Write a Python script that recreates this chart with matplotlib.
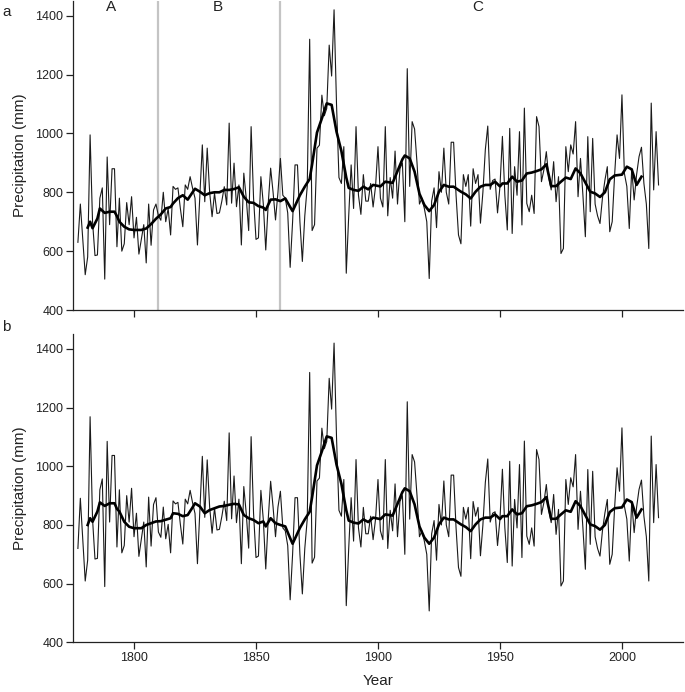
from __future__ import annotations

import matplotlib

matplotlib.use("Agg")
import matplotlib.pyplot as plt
import numpy as np

FIRST_YEAR = 1777
LAST_YEAR = 2015

# annual precipitation (mm), 1777-1859, panel a (original record)
PRECIP_EARLY_A = [
    630, 760, 640,
    520, 580, 995, 700, 585, 587, 780, 815, 505, 920,
    690, 880, 880, 615, 780, 600, 625, 765, 690, 785,
    645, 715, 590, 640, 690, 560, 760, 620, 740, 760,
    720, 705, 800, 700, 745, 655, 820, 810, 815, 745,
    683, 825, 810, 853, 814, 780, 621, 790, 961, 768,
    950, 800, 717, 797, 728, 730, 770, 819, 757, 1035,
    763, 899, 751, 825, 621, 865, 780, 670, 1023, 780,
    640, 645, 853, 760, 604, 760, 882, 800, 706, 800,
]

# annual precipitation (mm), 1777-1859, panel b (adjusted record)
PRECIP_EARLY_B = [
    720, 891, 750,
    609, 680, 1169, 820, 684, 686, 920, 957, 590, 1085,
    810, 1037, 1037, 725, 920, 705, 730, 900, 810, 925,
    760, 840, 693, 752, 810, 657, 895, 728, 870, 893,
    776, 758, 861, 753, 802, 705, 882, 872, 877, 802,
    735, 888, 872, 918, 876, 839, 668, 850, 1034, 826,
    1022, 861, 772, 858, 783, 785, 829, 881, 815, 1114,
    821, 967, 808, 888, 668, 931, 839, 721, 1101, 839,
    689, 694, 918, 818, 650, 818, 949, 861, 760, 861,
]

# annual precipitation (mm), 1860-2015, same in both panels
PRECIP_LATE = [
    915, 790, 780, 730, 545, 700, 893, 893, 700, 565,
    720, 820, 1320, 670, 690, 950, 960, 1130, 1060, 1085,
    1300, 1195, 1420, 1100, 850, 830, 955, 525, 720, 893,
    745, 1023, 790, 725, 860, 770, 770, 830, 750, 820,
    955, 780, 750, 1023, 720, 850, 780, 940, 760, 880,
    900, 700, 1220, 820, 1040, 1015, 900, 760, 780, 745,
    700, 507, 770, 815, 680, 870, 800, 950, 800, 760,
    970, 970, 790, 655, 625, 860, 820, 860, 685, 880,
    830, 860, 695, 800, 945, 1025, 810, 840, 845, 730,
    820, 990, 790, 672, 1017, 660, 887, 790, 1006, 689,
    1086, 762, 734, 790, 728, 1057, 1023, 836, 876, 938,
    850, 808, 904, 768, 853, 592, 609, 955, 870, 961,
    930, 1040, 785, 915, 790, 649, 989, 734, 983, 760,
    720, 694, 780, 840, 887, 666, 700, 860, 995, 915,
    1131, 864, 820, 677, 880, 774, 860, 921, 953, 830,
    760, 609, 1103, 808, 1006, 825,
]

# smoothed curve
SMOOTH_YEARS_EARLY = [
    1781, 1782, 1783, 1785, 1786, 1788, 1790, 1792, 1793, 1794,
    1796, 1798, 1800, 1803, 1805, 1807, 1809, 1811, 1813, 1815,
    1816, 1818, 1820, 1822, 1824, 1825, 1827, 1829, 1831, 1833,
    1835, 1837, 1839, 1841, 1843, 1845, 1847, 1849, 1851, 1853,
    1854, 1856, 1858, 1860, 1862, 1864,
]
SMOOTH_EARLY_A = [
    680, 700, 678, 711, 745, 730, 734, 734, 719, 700,
    683, 674, 672, 672, 677, 692, 710, 725, 745, 750,
    762, 780, 790, 775, 800, 812, 802, 790, 797, 800,
    800, 808, 808, 811, 817, 785, 766, 764, 753, 748,
    740, 775, 776, 770, 779, 750,
]
SMOOTH_EARLY_B = [
    800, 823, 811, 846, 877, 865, 874, 874, 855, 846,
    811, 794, 789, 789, 800, 806, 812, 813, 818, 823,
    840, 838, 830, 834, 860, 874, 863, 840, 851, 857,
    863, 865, 869, 872, 870, 834, 823, 817, 806, 812,
    795, 823, 806, 800, 795, 755,
]
SMOOTH_YEARS_LATE = [
    1865, 1867, 1868, 1870, 1872, 1873, 1875, 1877, 1879, 1881,
    1883, 1885, 1887, 1888, 1890, 1892, 1894, 1896, 1898, 1901,
    1903, 1906, 1908, 1910, 1911, 1913, 1915, 1917, 1919, 1921,
    1923, 1925, 1927, 1929, 1931, 1934, 1936, 1938, 1940, 1942,
    1944, 1946, 1948, 1950, 1951, 1953, 1955, 1957, 1959, 1961,
    1963, 1965, 1967, 1969, 1971, 1973, 1975, 1977, 1979, 1981,
    1983, 1985, 1987, 1989, 1991, 1993, 1995, 1997, 2000, 2002,
    2004, 2006, 2008,
]
SMOOTH_LATE = [
    736, 772, 790, 819, 845, 895, 1003, 1051, 1102, 1097,
    1006, 940, 850, 815, 808, 805, 819, 810, 825, 820,
    836, 832, 872, 912, 925, 915, 870, 795, 757, 736,
    757, 802, 825, 819, 819, 802, 793, 779, 802, 819,
    825, 825, 836, 820, 830, 830, 853, 836, 840, 864,
    867, 872, 878, 895, 821, 821, 836, 850, 845, 881,
    864, 833, 802, 796, 784, 800, 844, 857, 860, 887,
    878, 825, 853,
]

PERIOD_BREAKS = [1810, 1860]
PERIOD_LABELS = [("A", 1790.5), ("B", 1834.5), ("C", 1941)]

FONT = ["Liberation Sans", "DejaVu Sans"]
LINE_COLOR = "#1a1a1a"


def style_axis(ax, show_xlabels: bool) -> None:
    ax.set_xlim(1775, 2025)
    ax.set_ylim(400, 1450)
    ax.set_xticks([1800, 1850, 1900, 1950, 2000])
    ax.set_yticks([400, 600, 800, 1000, 1200, 1400])
    ax.spines["top"].set_visible(False)
    ax.spines["right"].set_visible(False)
    for side in ("left", "bottom"):
        ax.spines[side].set_linewidth(0.9)
        ax.spines[side].set_color("#222222")
    ax.tick_params(direction="out", length=5, width=0.9, labelsize=9, pad=2,
                   color="#222222", labelcolor="#222222")
    if not show_xlabels:
        ax.tick_params(axis="x", labelbottom=False)
    ax.set_ylabel("Precipitation (mm)", fontsize=11, labelpad=6, color="#222222")


def draw_panel(ax, annual, smooth_years, smooth_vals) -> None:
    years = np.arange(FIRST_YEAR, LAST_YEAR + 1)
    ax.plot(years, annual, color=LINE_COLOR, linewidth=0.8, zorder=2)
    ax.plot(smooth_years, smooth_vals, color="black", linewidth=1.9,
            solid_joinstyle="round", zorder=3)


def main() -> None:
    plt.rcParams["font.family"] = FONT
    fig = plt.figure(figsize=(6.85, 6.92), dpi=100)
    ax_a = fig.add_axes([0.1066, 0.552, 0.8904, 0.4466])
    ax_b = fig.add_axes([0.1066, 0.0718, 0.8904, 0.4451])

    annual_a = PRECIP_EARLY_A + PRECIP_LATE
    annual_b = PRECIP_EARLY_B + PRECIP_LATE
    smooth_years = SMOOTH_YEARS_EARLY + SMOOTH_YEARS_LATE

    for yr in PERIOD_BREAKS:
        ax_a.axvline(yr, color="#c4c4c4", linewidth=1.6, zorder=1)
    draw_panel(ax_a, annual_a, smooth_years, SMOOTH_EARLY_A + SMOOTH_LATE)
    draw_panel(ax_b, annual_b, smooth_years, SMOOTH_EARLY_B + SMOOTH_LATE)

    style_axis(ax_a, show_xlabels=False)
    style_axis(ax_b, show_xlabels=True)
    ax_b.set_xlabel("Year", fontsize=11, labelpad=7, color="#222222")

    for label, yr in PERIOD_LABELS:
        ax_a.text(yr, 1428, label, fontsize=11, ha="center", va="center",
                  color="#222222")

    fig.text(0.003, 0.983, "a", fontsize=11, ha="left", va="center", color="#222222")
    fig.text(0.003, 0.528, "b", fontsize=11, ha="left", va="center", color="#222222")

    fig.savefig("out.png", dpi=100)
    plt.close(fig)


if __name__ == "__main__":
    main()
